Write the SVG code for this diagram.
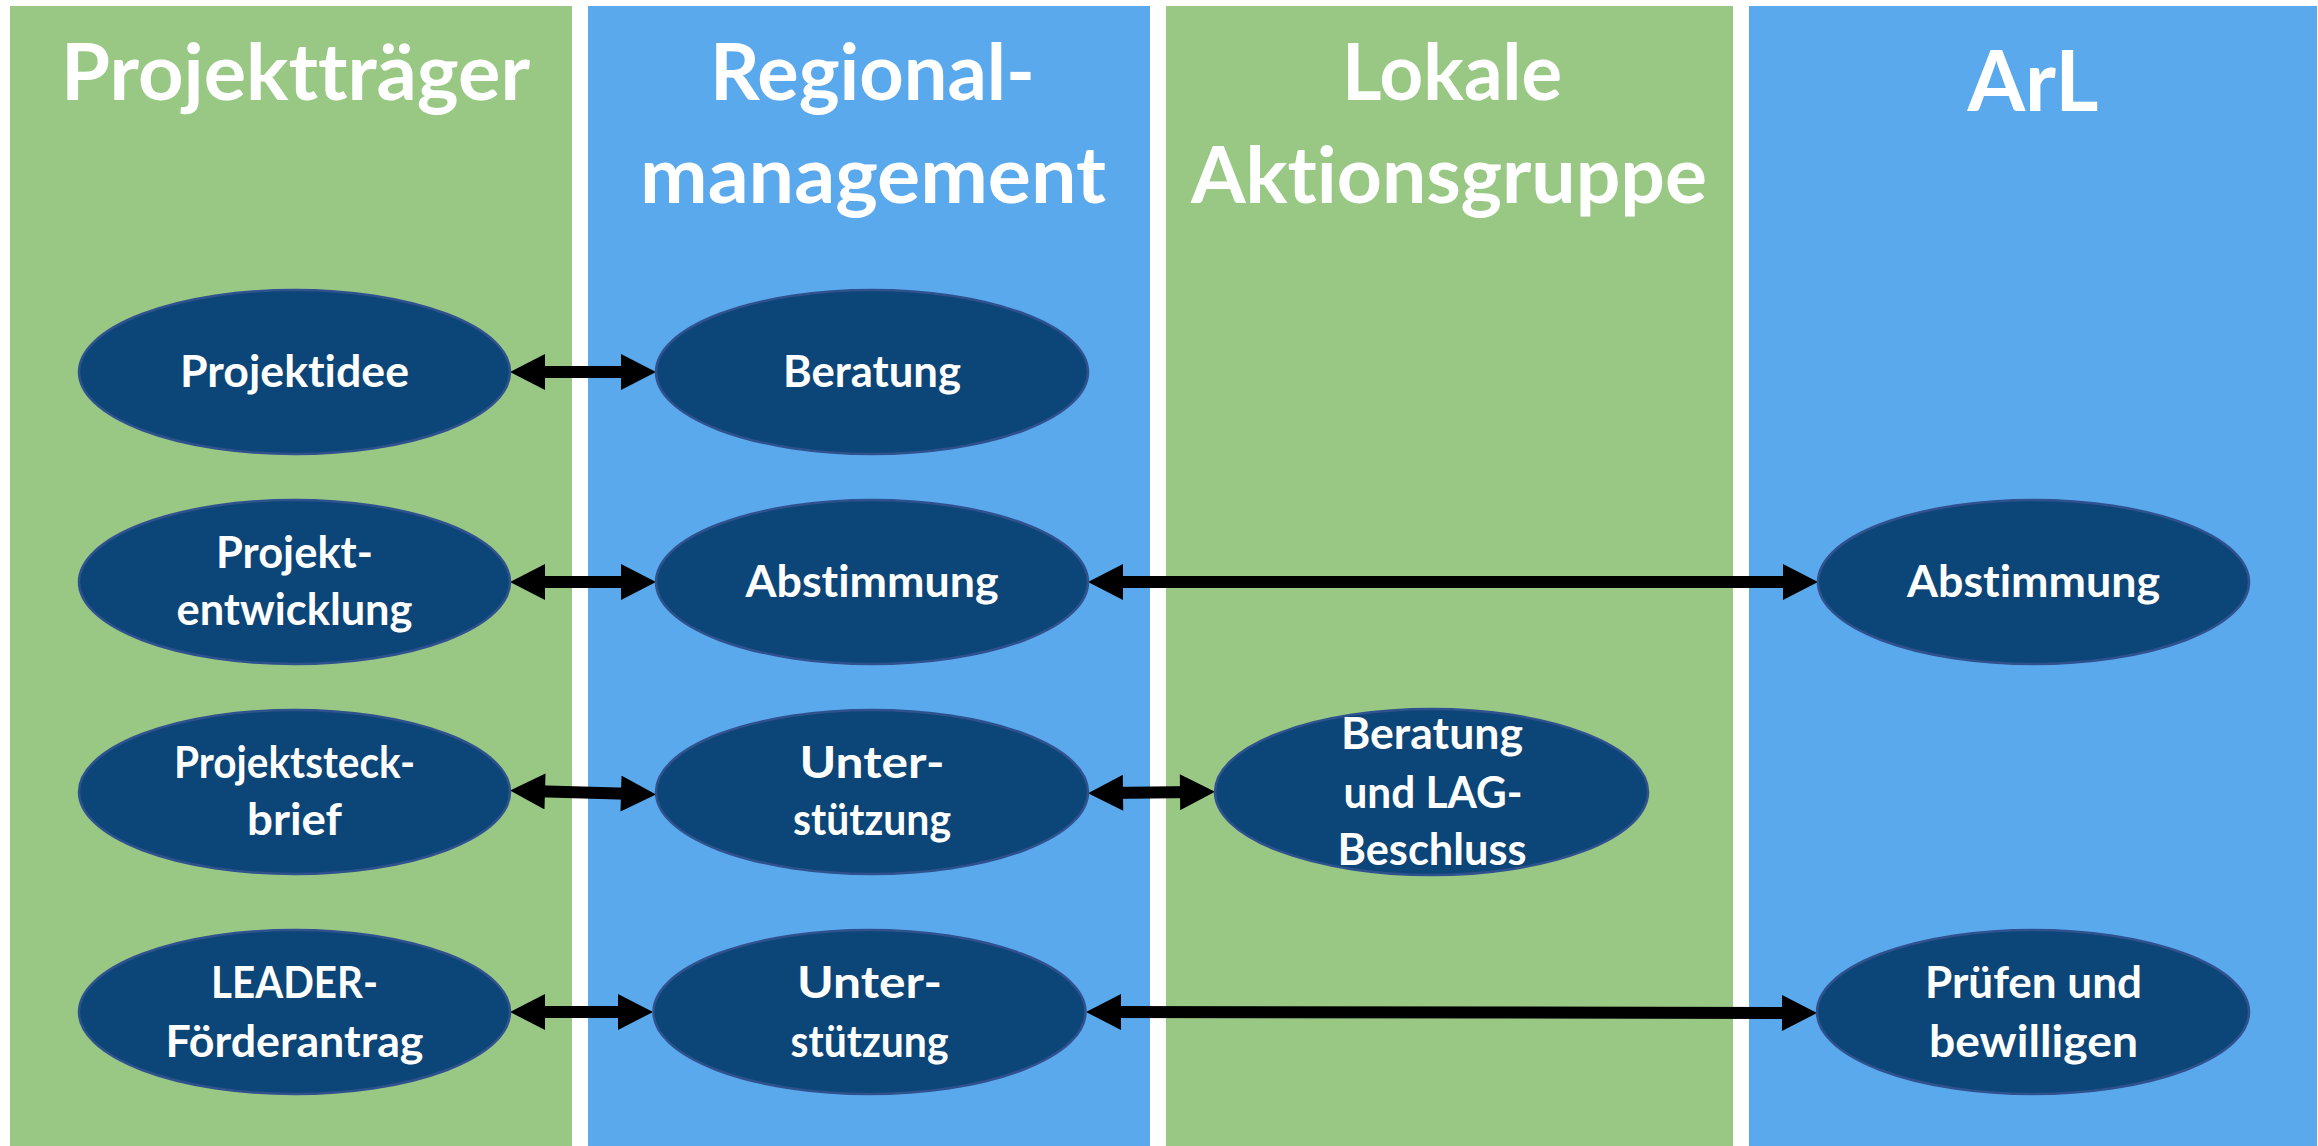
<svg xmlns="http://www.w3.org/2000/svg" width="2318" height="1146" viewBox="0 0 2318 1146">
<style>
.colg{fill:#98C884}
.colb{fill:#5BA9ED}
.hdr{font-family:Lato,"Open Sans","Liberation Sans",sans-serif;font-weight:bold;font-size:79px;fill:#FFFFFF;text-anchor:middle;font-variant-ligatures:none}
.node ellipse{fill:#0C4577;stroke:#2F528F;stroke-width:2.5}
.lbl{font-family:Lato,"Open Sans","Liberation Sans",sans-serif;font-weight:bold;font-size:43px;fill:#FFFFFF;text-anchor:middle;font-variant-ligatures:none}
.conn{stroke:#000000;stroke-width:12;fill:none;marker-start:url(#ah);marker-end:url(#ah)}
</style>
<defs>
<marker id="ah" markerUnits="userSpaceOnUse" markerWidth="36" markerHeight="36" viewBox="0 0 35 36" refX="15" refY="18" orient="auto-start-reverse">
<path d="M0,0 L35,18 L0,36 Z" fill="#000000"/>
</marker>
</defs>
<rect width="2318" height="1146" fill="#FFFFFF"/>
<g id="lanes">
<rect class="colg" x="10" y="6" width="562" height="1140"/>
<rect class="colb" x="588" y="6" width="562" height="1140"/>
<rect class="colg" x="1166" y="6" width="567" height="1140"/>
<rect class="colb" x="1749" y="6" width="568" height="1140"/>
</g>
<g id="headers">
<text class="hdr" x="295.5" y="100" textLength="469" lengthAdjust="spacingAndGlyphs">Projektträger</text>
<text class="hdr" x="872.5" y="100" textLength="325" lengthAdjust="spacingAndGlyphs">Regional-</text>
<text class="hdr" x="873" y="203" textLength="466" lengthAdjust="spacingAndGlyphs">management</text>
<text class="hdr" x="1452" y="100" textLength="220" lengthAdjust="spacingAndGlyphs">Lokale</text>
<text class="hdr" x="1449" y="203" textLength="516" lengthAdjust="spacingAndGlyphs">Aktionsgruppe</text>
<text class="hdr" x="2033" y="111" style="font-size:84px" textLength="131" lengthAdjust="spacingAndGlyphs">ArL</text>
</g>
<g id="connectors">
<line class="conn" x1="530" y1="372" x2="636" y2="372"/>
<line class="conn" x1="530" y1="582" x2="636" y2="582"/>
<line class="conn" x1="1108" y1="582" x2="1798" y2="582"/>
<line class="conn" x1="530" y1="791" x2="636" y2="794"/>
<line class="conn" x1="1108" y1="793" x2="1195" y2="792"/>
<line class="conn" x1="530" y1="1012" x2="633" y2="1012"/>
<line class="conn" x1="1106" y1="1012" x2="1797" y2="1013"/>
</g>
<g id="n-projektidee" class="node">
<ellipse cx="294.5" cy="372" rx="215.5" ry="82"/>
<text class="lbl" x="294.5" y="387" textLength="229" lengthAdjust="spacingAndGlyphs">Projektidee</text>
</g>
<g id="n-beratung" class="node">
<ellipse cx="872" cy="372" rx="216" ry="82"/>
<text class="lbl" x="872" y="387" textLength="178" lengthAdjust="spacingAndGlyphs">Beratung</text>
</g>
<g id="n-projektentwicklung" class="node">
<ellipse cx="294.5" cy="582" rx="215.5" ry="82"/>
<text class="lbl" x="294.5" y="568" textLength="157" lengthAdjust="spacingAndGlyphs">Projekt-</text>
<text class="lbl" x="294.5" y="625" textLength="236" lengthAdjust="spacingAndGlyphs">entwicklung</text>
</g>
<g id="n-abstimmung-rm" class="node">
<ellipse cx="872" cy="582" rx="216" ry="82"/>
<text class="lbl" x="872" y="597" textLength="253" lengthAdjust="spacingAndGlyphs">Abstimmung</text>
</g>
<g id="n-abstimmung-arl" class="node">
<ellipse cx="2033.5" cy="582" rx="215.5" ry="82"/>
<text class="lbl" x="2033.5" y="597" textLength="253" lengthAdjust="spacingAndGlyphs">Abstimmung</text>
</g>
<g id="n-projektsteckbrief" class="node">
<ellipse cx="294.5" cy="792" rx="215.5" ry="82"/>
<text class="lbl" x="294.5" y="778" textLength="241" lengthAdjust="spacingAndGlyphs">Projektsteck-</text>
<text class="lbl" x="294.5" y="835" textLength="95" lengthAdjust="spacingAndGlyphs">brief</text>
</g>
<g id="n-unterstuetzung-1" class="node">
<ellipse cx="872" cy="792" rx="216" ry="82"/>
<text class="lbl" x="872" y="778" textLength="145" lengthAdjust="spacingAndGlyphs">Unter-</text>
<text class="lbl" x="872" y="835" textLength="158" lengthAdjust="spacingAndGlyphs">stützung</text>
</g>
<g id="n-lag-beschluss" class="node">
<ellipse cx="1431.5" cy="792" rx="216.5" ry="83"/>
<text class="lbl" x="1432" y="749" textLength="182" lengthAdjust="spacingAndGlyphs">Beratung</text>
<text class="lbl" x="1433" y="808" textLength="179" lengthAdjust="spacingAndGlyphs">und LAG-</text>
<text class="lbl" x="1432" y="865" textLength="189" lengthAdjust="spacingAndGlyphs">Beschluss</text>
</g>
<g id="n-foerderantrag" class="node">
<ellipse cx="294.5" cy="1012" rx="215.5" ry="82"/>
<text class="lbl" x="294.5" y="998" textLength="167" lengthAdjust="spacingAndGlyphs">LEADER-</text>
<text class="lbl" x="294.5" y="1057" textLength="258" lengthAdjust="spacingAndGlyphs">Förderantrag</text>
</g>
<g id="n-unterstuetzung-2" class="node">
<ellipse cx="869.5" cy="1012" rx="216" ry="82"/>
<text class="lbl" x="869.5" y="998" textLength="145" lengthAdjust="spacingAndGlyphs">Unter-</text>
<text class="lbl" x="869.5" y="1057" textLength="158" lengthAdjust="spacingAndGlyphs">stützung</text>
</g>
<g id="n-pruefen" class="node">
<ellipse cx="2033" cy="1012" rx="216" ry="82"/>
<text class="lbl" x="2033.5" y="998" textLength="217" lengthAdjust="spacingAndGlyphs">Prüfen und</text>
<text class="lbl" x="2033.5" y="1057" textLength="209" lengthAdjust="spacingAndGlyphs">bewilligen</text>
</g>
</svg>
